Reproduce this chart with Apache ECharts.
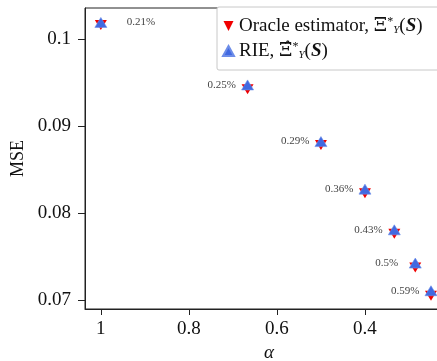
<!DOCTYPE html>
<html><head><meta charset="utf-8">
<script src="https://cdn.jsdelivr.net/npm/echarts@6/dist/echarts.min.js"></script>
<style>html,body{margin:0;padding:0;background:#fff}#c{width:437px;height:361px}</style>
</head><body><div id="c"></div>
<script>
const alphas = [1, 0.6667, 0.5, 0.4, 0.3333, 0.2857, 0.25];
const oracleMSE = [0.10164, 0.09425, 0.08785, 0.0823, 0.07762, 0.07375, 0.0705];
const rieMSE = [0.10194, 0.09475, 0.08823, 0.08276, 0.07808, 0.07425, 0.07107];
const pctLabels = ['0.21%', '0.25%', '0.29%', '0.36%', '0.43%', '0.5%', '0.59%'];
const xTicks = [1, 0.8, 0.6, 0.4];
const yTicks = [0.07, 0.08, 0.09, 0.1];

const SERIF = '"Liberation Serif", "DejaVu Serif", serif';
const chart = echarts.init(document.getElementById('c'), null, {renderer: 'canvas'});
const rich = {
  t: {fontSize: 19, fontFamily: SERIF, color: '#111', lineHeight: 20},
  m: {fontSize: 19, fontFamily: '"DejaVu Serif", serif', color: '#111', lineHeight: 20},
  sup: {fontSize: 12, fontFamily: SERIF, color: '#111', verticalAlign: 'top', lineHeight: 20},
  sub: {fontSize: 11, fontFamily: SERIF, fontStyle: 'italic', color: '#111', verticalAlign: 'bottom', lineHeight: 14},
  b: {fontSize: 19, fontFamily: SERIF, fontWeight: 'bold', fontStyle: 'italic', color: '#111', lineHeight: 20}
};
chart.setOption({
  animation: false,
  backgroundColor: '#fff',
  grid: {left: 85, top: 8, bottom: 52, right: -16, show: true, borderColor: '#222', borderWidth: 1,
         containLabel: false, outerBoundsMode: 'none'},
  legend: {
    left: 217, top: 7, orient: 'vertical',
    padding: [9, 60, 9, 5], itemGap: 5, itemWidth: 11, itemHeight: 10,
    borderColor: '#c8c8c8', borderWidth: 1, borderRadius: 2, backgroundColor: '#fff',
    textStyle: {rich: rich, lineHeight: 20, fontSize: 19, fontFamily: SERIF},
    data: [
      {name: 'Oracle estimator', icon: 'path://M0,0L10,0L5,10Z'},
      {name: 'RIE', icon: 'triangle'}
    ],
    formatter: function (n) {
      if (n === 'RIE') return '{t|RIE, }{m|\u039E\u0302}{sup|*}{sub|Y}{t|(}{b|S}{t|)}';
      return '{t|Oracle estimator, }{m|\u039E}{sup|*}{sub|Y}{t|(}{b|S}{t|)}';
    }
  },
  xAxis: {
    type: 'value', inverse: true, min: 0.2, max: 1.036,
    name: '\u03B1', nameLocation: 'middle', nameGap: 33,
    nameTextStyle: {fontSize: 19, fontFamily: SERIF, fontStyle: 'italic', color: '#111'},
    axisLine: {show: true, onZero: false, lineStyle: {color: '#222', width: 1}},
    axisTick: {show: true, inside: false, length: 6, customValues: xTicks, lineStyle: {color: '#222'}},
    axisLabel: {customValues: xTicks, margin: 11, fontSize: 19, fontFamily: SERIF, color: '#111', formatter: v => String(v)},
    splitLine: {show: false}
  },
  yAxis: {
    type: 'value', min: 0.06897, max: 0.1036,
    name: 'MSE', nameLocation: 'middle', nameGap: 57,
    nameTextStyle: {fontSize: 18, fontFamily: SERIF, color: '#111'},
    axisLine: {show: true, onZero: false, lineStyle: {color: '#222', width: 1}},
    axisTick: {show: true, inside: false, length: 7, customValues: yTicks, lineStyle: {color: '#222'}},
    axisLabel: {customValues: yTicks, margin: 14, fontSize: 19, fontFamily: SERIF, color: '#111', formatter: v => String(v)},
    splitLine: {show: false}
  },
  series: [
    {
      name: 'Oracle estimator', type: 'scatter', symbol: 'triangle', symbolRotate: 180,
      symbolSize: [12, 10], itemStyle: {color: '#f00000', opacity: 1}, z: 2,
      data: alphas.map((a, i) => [a, oracleMSE[i]])
    },
    {
      name: 'RIE', type: 'scatter', symbol: 'triangle',
      symbolSize: [12, 10], itemStyle: {color: '#4169e1', borderColor: '#6d8de8', borderWidth: 0.6, opacity: 1}, z: 3,
      data: alphas.map((a, i) => ({
        value: [a, rieMSE[i]],
        label: {offset: i === 0 ? [26, 0] : [-40, 0]}
      })),
      label: {
        show: true, position: 'inside', align: 'left', verticalAlign: 'middle',
        fontSize: 11, fontFamily: SERIF, color: '#444',
        formatter: p => pctLabels[p.dataIndex]
      }
    }
  ]
});
</script></body></html>
